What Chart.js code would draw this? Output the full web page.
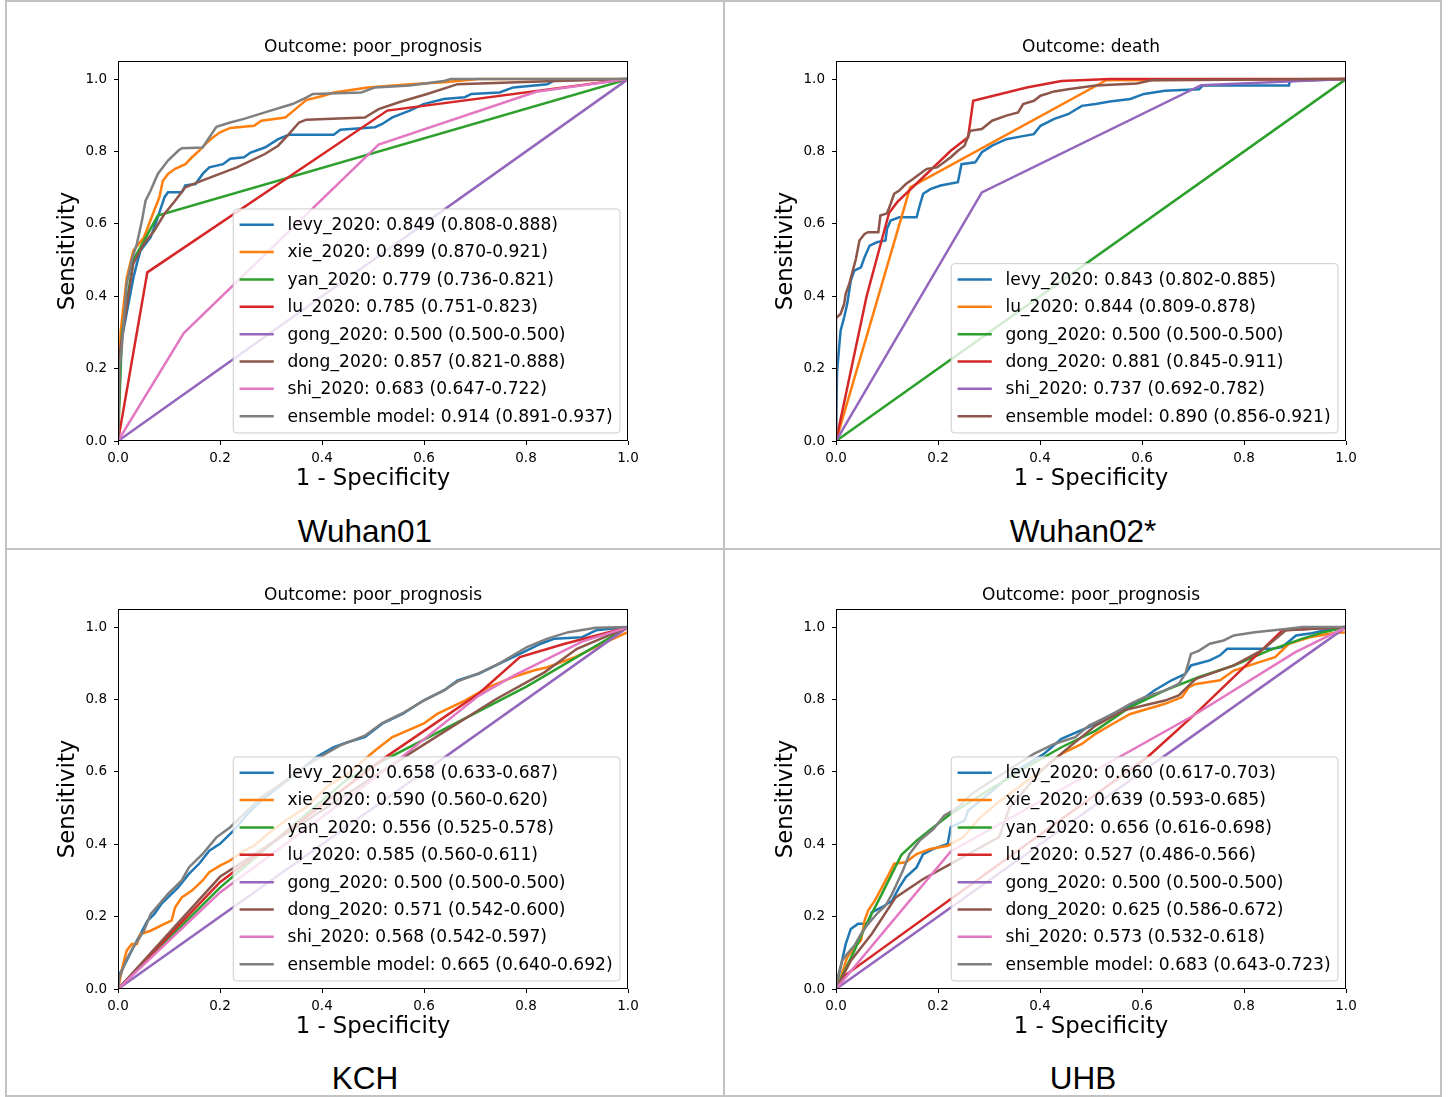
<!DOCTYPE html>
<html>
<head>
<meta charset="utf-8">
<script src="https://cdn.jsdelivr.net/npm/chart.js@4.4.0/dist/chart.umd.min.js"></script>
<style>
    html, body { margin: 0; padding: 0; background: #fff; }
    body { width: 1449px; height: 1097px; position: relative; overflow: hidden; }
    .vline, .hline { position: absolute; background: #c2c2c2; }
    .vline { width: 2px; top: 0; height: 1097px; }
    .hline { height: 2px; left: 5px; width: 1437px; }
    canvas { position: absolute; }
    .site {
        position: absolute;
        width: 716px;
        text-align: center;
        font-family: "Liberation Sans", Arial, sans-serif;
        font-size: 31.5px;
        line-height: 34px;
        color: #000;
    }
</style>
</head>
<body>
<div class="vline" style="left:5px"></div>
<div class="vline" style="left:723px"></div>
<div class="vline" style="left:1440px"></div>
<div class="hline" style="top:0"></div>
<div class="hline" style="top:548px"></div>
<div class="hline" style="top:1095px"></div>

<canvas id="c0" width="686" height="480" style="left:30px;top:20px"></canvas>
<canvas id="c1" width="686" height="480" style="left:748px;top:20px"></canvas>
<canvas id="c2" width="686" height="480" style="left:30px;top:568px"></canvas>
<canvas id="c3" width="686" height="480" style="left:748px;top:568px"></canvas>

<div class="site" style="left:7px;top:514px">Wuhan01</div>
<div class="site" style="left:725px;top:514px">Wuhan02*</div>
<div class="site" style="left:7px;top:1061px">KCH</div>
<div class="site" style="left:725px;top:1061px">UHB</div>

<script>
// =====================================
// DATA: [1 - specificity, sensitivity]
// =====================================
const axisTicks = [0, 0.2, 0.4, 0.6, 0.8, 1.0];

// Wuhan01
const wuhan01Title = "Outcome: poor_prognosis";
const wuhan01Labels = [
    "levy_2020: 0.849 (0.808-0.888)",
    "xie_2020: 0.899 (0.870-0.921)",
    "yan_2020: 0.779 (0.736-0.821)",
    "lu_2020: 0.785 (0.751-0.823)",
    "gong_2020: 0.500 (0.500-0.500)",
    "dong_2020: 0.857 (0.821-0.888)",
    "shi_2020: 0.683 (0.647-0.722)",
    "ensemble model: 0.914 (0.891-0.937)",
];
const wuhan01Levy = [[0,0],[0.003,0.25],[0.03,0.45],[0.037,0.49],[0.044,0.526],[0.064,0.563],[0.078,0.618],[0.091,0.673],[0.098,0.687],[0.125,0.687],[0.132,0.706],[0.152,0.71],[0.166,0.738],[0.179,0.756],[0.206,0.765],[0.22,0.78],[0.247,0.784],[0.26,0.797],[0.288,0.811],[0.314,0.834],[0.335,0.846],[0.423,0.846],[0.436,0.86],[0.504,0.867],[0.518,0.876],[0.538,0.894],[0.572,0.913],[0.599,0.931],[0.639,0.945],[0.68,0.95],[0.693,0.959],[0.748,0.963],[0.775,0.977],[0.842,0.986],[0.856,0.997],[1,1]];
const wuhan01Xie = [[0,0],[0.005,0.3],[0.017,0.45],[0.03,0.526],[0.051,0.563],[0.071,0.637],[0.081,0.673],[0.088,0.719],[0.098,0.738],[0.112,0.752],[0.132,0.765],[0.145,0.784],[0.159,0.802],[0.172,0.821],[0.186,0.839],[0.2,0.853],[0.22,0.865],[0.267,0.871],[0.281,0.885],[0.328,0.894],[0.348,0.917],[0.369,0.942],[0.403,0.954],[0.423,0.963],[0.49,0.977],[0.572,0.986],[0.639,0.991],[0.707,1],[1,1]];
const wuhan01Yan = [[0,0],[0.008,0.3],[0.03,0.5],[0.078,0.623],[1,1]];
const wuhan01Lu = [[0,0],[0.0575,0.466],[0.528,0.913],[1,1]];
const wuhan01Gong = [[0,0],[1,1]];
const wuhan01Dong = [[0,0],[0.004,0.25],[0.03,0.49],[0.051,0.545],[0.071,0.581],[0.091,0.627],[0.112,0.664],[0.132,0.701],[0.166,0.72],[0.233,0.756],[0.288,0.793],[0.314,0.816],[0.335,0.848],[0.355,0.88],[0.369,0.888],[0.484,0.894],[0.511,0.917],[0.551,0.936],[0.606,0.959],[0.666,0.986],[0.842,0.994],[1,1]];
const wuhan01Shi = [[0,0],[0.129,0.298],[0.511,0.819],[0.82,0.965],[1,1]];
const wuhan01Ensemble = [[0,0],[0.003,0.2],[0.007,0.25],[0.017,0.434],[0.027,0.499],[0.037,0.545],[0.047,0.609],[0.054,0.664],[0.064,0.692],[0.078,0.738],[0.098,0.775],[0.118,0.802],[0.125,0.809],[0.166,0.811],[0.179,0.839],[0.193,0.868],[0.22,0.88],[0.247,0.89],[0.288,0.908],[0.342,0.931],[0.369,0.949],[0.382,0.959],[0.477,0.963],[0.504,0.977],[0.572,0.982],[0.639,0.995],[0.653,1],[1,1]];

// Wuhan02*
const wuhan02Title = "Outcome: death";
const wuhan02Labels = [
    "levy_2020: 0.843 (0.802-0.885)",
    "lu_2020: 0.844 (0.809-0.878)",
    "gong_2020: 0.500 (0.500-0.500)",
    "dong_2020: 0.881 (0.845-0.911)",
    "shi_2020: 0.737 (0.692-0.782)",
    "ensemble model: 0.890 (0.856-0.921)",
];
const wuhan02Levy = [[0,0],[0.002,0.19],[0.005,0.24],[0.009,0.305],[0.016,0.342],[0.022,0.379],[0.029,0.443],[0.036,0.471],[0.049,0.48],[0.056,0.508],[0.066,0.54],[0.08,0.549],[0.097,0.554],[0.1,0.586],[0.107,0.609],[0.124,0.618],[0.158,0.618],[0.164,0.65],[0.171,0.683],[0.185,0.696],[0.205,0.706],[0.239,0.715],[0.246,0.765],[0.273,0.77],[0.286,0.798],[0.306,0.816],[0.334,0.834],[0.361,0.841],[0.388,0.848],[0.401,0.871],[0.428,0.89],[0.455,0.903],[0.482,0.926],[0.509,0.931],[0.537,0.938],[0.577,0.945],[0.604,0.959],[0.645,0.968],[0.712,0.972],[0.719,0.982],[0.888,0.982],[0.89,0.995],[1,1]];
const wuhan02Lu = [[0,0],[0.1455,0.701],[0.53,0.997],[1,1]];
const wuhan02Gong = [[0,0],[1,1]];
const wuhan02Dong = [[0,0],[0.06,0.4],[0.104,0.63],[0.12,0.66],[0.225,0.802],[0.259,0.839],[0.269,0.94],[0.374,0.977],[0.442,0.995],[0.537,1],[1,1]];
const wuhan02Shi = [[0,0],[0.286,0.687],[0.716,0.983],[1,1]];
const wuhan02Ensemble = [[0,0],[0,0.34],[0.009,0.351],[0.016,0.379],[0.019,0.407],[0.026,0.434],[0.032,0.466],[0.039,0.503],[0.046,0.554],[0.056,0.572],[0.063,0.577],[0.083,0.577],[0.087,0.623],[0.1,0.629],[0.107,0.655],[0.114,0.683],[0.124,0.692],[0.137,0.71],[0.151,0.724],[0.164,0.738],[0.178,0.752],[0.198,0.756],[0.212,0.77],[0.225,0.784],[0.239,0.802],[0.252,0.816],[0.263,0.857],[0.286,0.862],[0.306,0.885],[0.334,0.899],[0.357,0.908],[0.367,0.931],[0.388,0.94],[0.401,0.954],[0.428,0.966],[0.455,0.972],[0.509,0.982],[0.59,0.988],[0.618,0.997],[1,1]];

// KCH
const kchTitle = "Outcome: poor_prognosis";
const kchLabels = [
    "levy_2020: 0.658 (0.633-0.687)",
    "xie_2020: 0.590 (0.560-0.620)",
    "yan_2020: 0.556 (0.525-0.578)",
    "lu_2020: 0.585 (0.560-0.611)",
    "gong_2020: 0.500 (0.500-0.500)",
    "dong_2020: 0.571 (0.542-0.600)",
    "shi_2020: 0.568 (0.542-0.597)",
    "ensemble model: 0.665 (0.640-0.692)",
];
const kchLevy = [[0,0],[0.003,0.041],[0.017,0.078],[0.03,0.115],[0.044,0.152],[0.058,0.189],[0.071,0.207],[0.085,0.235],[0.098,0.253],[0.118,0.281],[0.139,0.318],[0.159,0.346],[0.179,0.382],[0.2,0.401],[0.227,0.438],[0.254,0.484],[0.281,0.521],[0.315,0.558],[0.348,0.594],[0.389,0.641],[0.423,0.668],[0.45,0.682],[0.484,0.696],[0.518,0.733],[0.558,0.76],[0.599,0.797],[0.639,0.825],[0.666,0.853],[0.707,0.871],[0.748,0.899],[0.788,0.926],[0.829,0.954],[0.856,0.968],[0.91,0.972],[0.937,0.991],[1,1]];
const kchXie = [[0,0],[0.01,0.069],[0.017,0.106],[0.027,0.124],[0.037,0.124],[0.044,0.152],[0.064,0.161],[0.091,0.18],[0.105,0.189],[0.112,0.226],[0.125,0.253],[0.145,0.272],[0.166,0.3],[0.179,0.323],[0.2,0.341],[0.22,0.355],[0.247,0.382],[0.267,0.396],[0.294,0.429],[0.328,0.465],[0.369,0.502],[0.409,0.558],[0.45,0.594],[0.504,0.659],[0.538,0.696],[0.599,0.733],[0.626,0.76],[0.68,0.797],[0.727,0.834],[0.775,0.862],[0.815,0.88],[0.842,0.889],[0.896,0.917],[0.937,0.945],[0.978,0.972],[1,0.986],[1,1]];
const kchYan = [[0,0],[0.2,0.28],[0.45,0.58],[0.8,0.835],[1,1]];
const kchLu = [[0,0],[0.2,0.295],[0.524,0.64],[0.707,0.816],[0.788,0.917],[0.876,0.954],[1,1]];
const kchGong = [[0,0],[1,1]];
const kchDong = [[0,0],[0.2,0.31],[0.56,0.64],[0.74,0.8],[0.836,0.875],[0.9,0.94],[1,1]];
const kchShi = [[0,0],[0.2,0.267],[0.52,0.6],[0.707,0.81],[0.775,0.865],[0.91,0.96],[1,1]];
const kchEnsemble = [[0,0],[0.003,0.032],[0.017,0.083],[0.03,0.115],[0.051,0.161],[0.064,0.207],[0.078,0.23],[0.098,0.263],[0.125,0.3],[0.139,0.336],[0.166,0.373],[0.193,0.419],[0.22,0.447],[0.247,0.484],[0.281,0.53],[0.315,0.562],[0.355,0.604],[0.396,0.641],[0.436,0.673],[0.484,0.7],[0.518,0.735],[0.558,0.762],[0.599,0.797],[0.639,0.825],[0.666,0.85],[0.707,0.872],[0.748,0.9],[0.802,0.945],[0.842,0.968],[0.883,0.986],[0.937,0.998],[1,1]];

// UHB
const uhbTitle = "Outcome: poor_prognosis";
const uhbLabels = [
    "levy_2020: 0.660 (0.617-0.703)",
    "xie_2020: 0.639 (0.593-0.685)",
    "yan_2020: 0.656 (0.616-0.698)",
    "lu_2020: 0.527 (0.486-0.566)",
    "gong_2020: 0.500 (0.500-0.500)",
    "dong_2020: 0.625 (0.586-0.672)",
    "shi_2020: 0.573 (0.532-0.618)",
    "ensemble model: 0.683 (0.643-0.723)",
];
const uhbLevy = [[0,0],[0.009,0.06],[0.019,0.124],[0.029,0.166],[0.043,0.18],[0.063,0.18],[0.07,0.212],[0.09,0.226],[0.11,0.244],[0.124,0.281],[0.137,0.309],[0.158,0.336],[0.171,0.373],[0.191,0.387],[0.219,0.401],[0.225,0.447],[0.252,0.465],[0.259,0.493],[0.3,0.54],[0.35,0.6],[0.408,0.65],[0.442,0.691],[0.496,0.724],[0.543,0.76],[0.597,0.797],[0.624,0.825],[0.658,0.853],[0.685,0.871],[0.696,0.894],[0.733,0.908],[0.753,0.922],[0.767,0.94],[0.855,0.94],[0.875,0.945],[0.902,0.977],[0.929,0.982],[0.97,0.995],[1,1]];
const uhbXie = [[0,0],[0.009,0.03],[0.022,0.088],[0.036,0.115],[0.049,0.134],[0.056,0.189],[0.063,0.217],[0.076,0.244],[0.09,0.281],[0.104,0.318],[0.114,0.346],[0.137,0.35],[0.158,0.373],[0.185,0.387],[0.219,0.396],[0.25,0.42],[0.28,0.47],[0.32,0.518],[0.38,0.58],[0.442,0.65],[0.482,0.677],[0.509,0.705],[0.543,0.733],[0.577,0.76],[0.645,0.788],[0.678,0.806],[0.692,0.834],[0.706,0.843],[0.753,0.853],[0.78,0.88],[0.821,0.899],[0.861,0.917],[0.888,0.954],[0.929,0.972],[0.97,0.982],[1,0.986],[1,1]];
const uhbYan = [[0,0],[0.036,0.106],[0.063,0.189],[0.09,0.263],[0.128,0.37],[0.158,0.41],[0.191,0.447],[0.225,0.484],[0.3,0.55],[0.37,0.61],[0.442,0.668],[0.509,0.714],[0.577,0.779],[0.645,0.825],[0.712,0.862],[0.78,0.894],[0.848,0.935],[0.915,0.968],[0.956,0.986],[1,1]];
const uhbLu = [[0,0],[0.02,0.04],[0.611,0.641],[0.712,0.77],[0.875,0.991],[1,1]];
const uhbGong = [[0,0],[1,1]];
const uhbDong = [[0,0],[0.029,0.078],[0.07,0.152],[0.117,0.253],[0.171,0.304],[0.225,0.346],[0.32,0.42],[0.34,0.5],[0.4,0.6],[0.45,0.66],[0.509,0.728],[0.564,0.77],[0.618,0.788],[0.645,0.797],[0.672,0.811],[0.692,0.839],[0.706,0.857],[0.78,0.894],[0.834,0.935],[0.882,0.991],[1,1]];
const uhbShi = [[0,0],[0.225,0.38],[0.7,0.755],[0.9,0.93],[1,1]];
const uhbEnsemble = [[0,0],[0.005,0.041],[0.012,0.078],[0.022,0.097],[0.036,0.12],[0.049,0.152],[0.063,0.18],[0.083,0.212],[0.097,0.23],[0.11,0.263],[0.131,0.327],[0.144,0.373],[0.164,0.41],[0.191,0.442],[0.212,0.479],[0.239,0.502],[0.266,0.539],[0.306,0.576],[0.347,0.613],[0.388,0.65],[0.428,0.677],[0.469,0.696],[0.496,0.728],[0.543,0.76],[0.577,0.788],[0.604,0.806],[0.645,0.825],[0.672,0.843],[0.685,0.871],[0.696,0.926],[0.712,0.935],[0.733,0.954],[0.76,0.963],[0.78,0.977],[0.821,0.986],[0.882,0.995],[0.915,1],[1,1]];

// =====================================
// STYLE
// =====================================
const palette = ["#1f77b4", "#ff7f0e", "#2ca02c", "#d62728", "#9467bd", "#8c564b", "#e377c2", "#7f7f7f"];
const FAMILY = '"DejaVu Sans", sans-serif';
const LEGEND_SIZE = 17.1;
const LINE_W = 2.5;

// frame round the plot + matplotlib-like legend (lower right)
const mplDecor = {
    id: "mplDecor",
    afterDatasetsDraw(chart) {
        const { ctx, chartArea: a } = chart;
        ctx.save();
        ctx.strokeStyle = "#000";
        ctx.lineWidth = 1;
        ctx.strokeRect(a.left + 0.5, a.top + 0.5, a.right - a.left - 1, a.bottom - a.top - 1);
        ctx.restore();
    },
    afterDraw(chart) {
        const { ctx, chartArea: a } = chart;
        const sets = chart.data.datasets;
        const fs = LEGEND_SIZE;
        const pad = 0.4 * fs, handle = 2 * fs, gap = 0.8 * fs, spacing = 0.5 * fs;
        const rowH = 1.6 * fs;

        ctx.save();
        ctx.font = fs + "px " + FAMILY;
        const textW = Math.max(...sets.map((d) => ctx.measureText(d.label).width));
        const w = pad + handle + gap + textW + pad;
        const h = sets.length * rowH - spacing + 2 * pad;
        const right = a.right - 0.5 * fs;
        const bottom = a.bottom - 0.5 * fs;
        const left = right - w, top = bottom - h;

        ctx.beginPath();
        ctx.roundRect(left + 0.5, top + 0.5, w, h, 3.4);
        ctx.fillStyle = "rgba(255,255,255,0.8)";
        ctx.fill();
        ctx.strokeStyle = "#cccccc";
        ctx.lineWidth = 1;
        ctx.stroke();

        ctx.textBaseline = "middle";
        ctx.textAlign = "left";
        sets.forEach((d, i) => {
            const y = top + pad + (rowH - spacing) / 2 + i * rowH;
            const x0 = left + pad;
            ctx.beginPath();
            ctx.moveTo(x0, y);
            ctx.lineTo(x0 + handle, y);
            ctx.strokeStyle = d.borderColor;
            ctx.lineWidth = LINE_W;
            ctx.stroke();
            ctx.fillStyle = "#000";
            ctx.fillText(d.label, x0 + handle + gap, y + 1);
        });
        ctx.restore();
    },
};

function tickSetup(extra) {
    return Object.assign({
        afterBuildTicks: (s) => { s.ticks = axisTicks.map((v) => ({ value: v })); },
        ticks: {
            color: "#000",
            font: { family: FAMILY, size: 13.5 },
            autoSkip: false,
            maxRotation: 0,
            callback: (v) => Number(v).toFixed(1),
        },
        grid: { drawOnChartArea: false, drawTicks: true, tickLength: 4, color: "#000", lineWidth: 1 },
        border: { display: false },
    }, extra);
}

function makeChart(id, title, labels, curves) {
    const n = curves.length;
    const datasets = curves.map((pts, i) => ({
        label: labels[i],
        data: pts.map(([x, y]) => ({ x: x, y: y })),
        xAxisID: "x",
        yAxisID: "y",
        borderColor: palette[i],
        borderWidth: LINE_W,
        pointRadius: 0,
        fill: false,
        tension: 0,
        order: n - 1 - i,
    }));

    const xScale = tickSetup({
        type: "linear",
        min: 0,
        max: 1,
        afterFit: (s) => { s.height = 59; },
        title: {
            display: true,
            text: "1 - Specificity",
            color: "#000",
            font: { family: FAMILY, size: 22.8 },
            padding: { top: 0, bottom: 7.3 },
        },
    });
    xScale.ticks.padding = 5;

    const yScale = tickSetup({
        type: "linear",
        min: 0,
        max: 1.05,
        afterFit: (s) => { s.width = 88; },
        title: {
            display: true,
            text: "Sensitivity",
            color: "#000",
            font: { family: FAMILY, size: 22.8 },
            padding: { top: 24.3, bottom: 0 },
        },
    });
    yScale.ticks.padding = 7;

    // empty right-hand band, same width as the y axis, so the title is centred over the plot
    const spacer = {
        type: "linear",
        position: "right",
        display: true,
        ticks: { display: false },
        grid: { display: false },
        border: { display: false },
        afterFit: (s) => { s.width = 88; },
    };

    new Chart(document.getElementById(id), {
        type: "line",
        data: { datasets },
        plugins: [mplDecor],
        options: {
            responsive: false,
            animation: false,
            events: [],
            layout: { padding: 0 },
            plugins: {
                legend: { display: false },
                tooltip: { enabled: false },
                title: {
                    display: true,
                    text: title,
                    color: "#000",
                    font: { family: FAMILY, size: 17, weight: "normal" },
                    padding: { top: 17.5, bottom: 3.1 },
                },
            },
            scales: { x: xScale, y: yScale, spacer: spacer },
        },
    });
}

// =====================================
// CHARTS
// =====================================
makeChart("c0", wuhan01Title, wuhan01Labels,
    [wuhan01Levy, wuhan01Xie, wuhan01Yan, wuhan01Lu, wuhan01Gong, wuhan01Dong, wuhan01Shi, wuhan01Ensemble]);
makeChart("c1", wuhan02Title, wuhan02Labels,
    [wuhan02Levy, wuhan02Lu, wuhan02Gong, wuhan02Dong, wuhan02Shi, wuhan02Ensemble]);
makeChart("c2", kchTitle, kchLabels,
    [kchLevy, kchXie, kchYan, kchLu, kchGong, kchDong, kchShi, kchEnsemble]);
makeChart("c3", uhbTitle, uhbLabels,
    [uhbLevy, uhbXie, uhbYan, uhbLu, uhbGong, uhbDong, uhbShi, uhbEnsemble]);
</script>
</body>
</html>
